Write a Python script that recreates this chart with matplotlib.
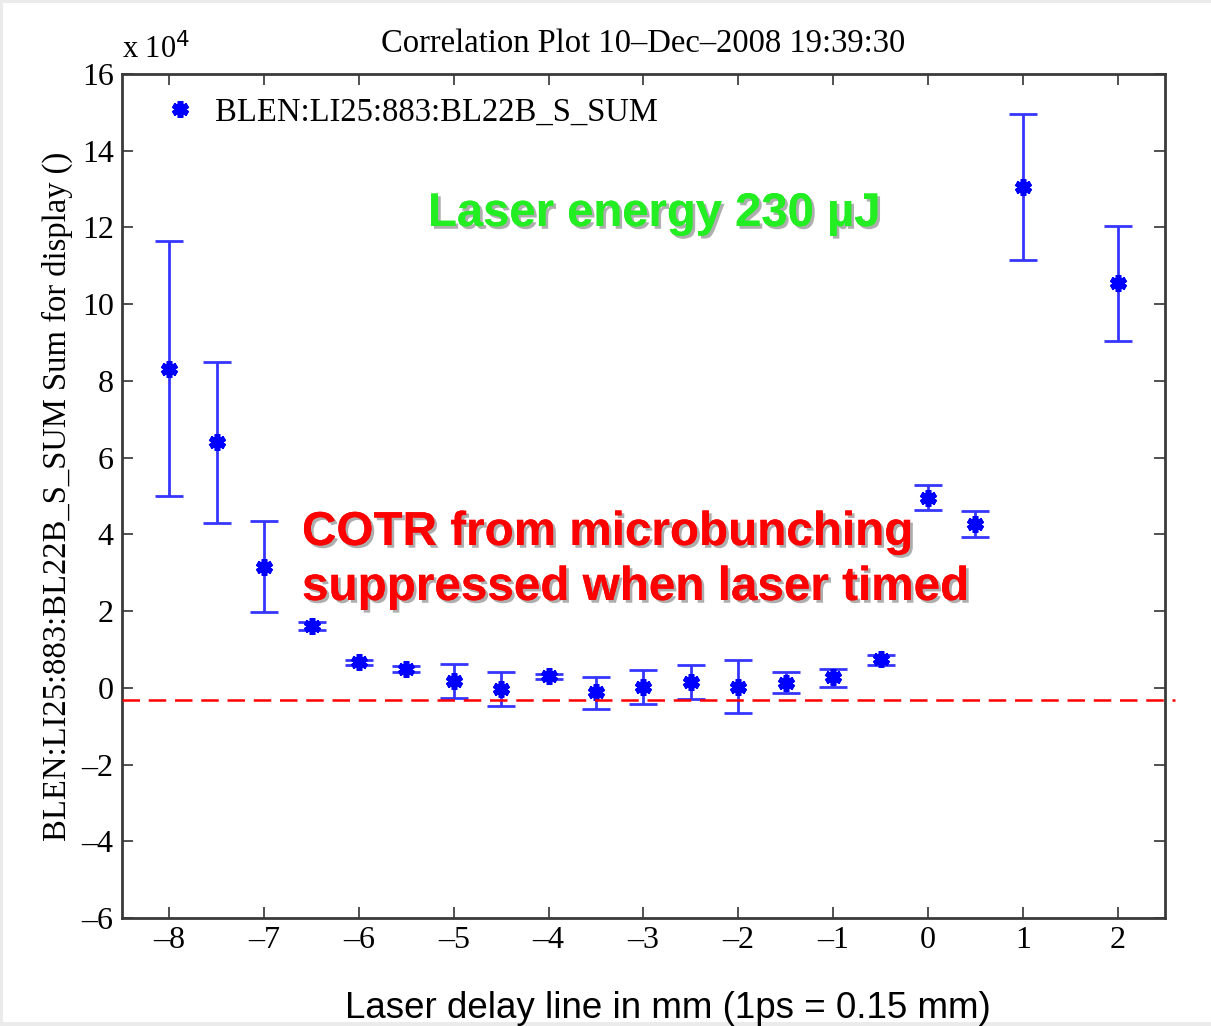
import matplotlib.pyplot as plt
import matplotlib.patheffects as pe
from matplotlib.patches import Rectangle

# delay line position (mm) and BLEN sum (units of 1e4)
delay = [-8, -7.5, -7, -6.5, -6, -5.5, -5, -4.5, -4, -3.5, -3, -2.5, -2, -1.5, -1, -0.5, 0, 0.5, 1, 2]
blen = [8.3, 6.4, 3.15, 1.62, 0.66, 0.5, 0.18, -0.04, 0.3, -0.12, 0.02, 0.14, 0.02, 0.12, 0.28, 0.74, 4.96, 4.28, 13.05, 10.55]
err_hi = [11.65, 8.5, 4.35, 1.72, 0.73, 0.58, 0.62, 0.41, 0.36, 0.28, 0.46, 0.6, 0.72, 0.42, 0.5, 0.86, 5.28, 4.62, 14.95, 12.05]
err_lo = [5.0, 4.3, 1.98, 1.52, 0.59, 0.42, -0.26, -0.48, 0.24, -0.56, -0.43, -0.3, -0.66, -0.14, 0.03, 0.6, 4.63, 3.93, 11.15, 9.05]
baseline = -0.32

xticks = [-8, -7, -6, -5, -4, -3, -2, -1, 0, 1, 2]
yticks = [-6, -4, -2, 0, 2, 4, 6, 8, 10, 12, 14, 16]

serif = ['Liberation Serif', 'DejaVu Serif']
sans = ['Liberation Sans', 'DejaVu Sans']

fig = plt.figure(figsize=(12.11, 10.26), dpi=100, facecolor='#ebebeb')
fig.patches.append(Rectangle((3 / 1211, 4 / 1026), 1 - 3 / 1211, 1 - 7 / 1026,
                             transform=fig.transFigure, facecolor='white',
                             edgecolor='none', zorder=-10))

ax = fig.add_axes([122 / 1211, 1 - 918 / 1026, (1165 - 122) / 1211, (918 - 74) / 1026])

lower = [b - l for b, l in zip(blen, err_lo)]
upper = [h - b for b, h in zip(blen, err_hi)]
ax.errorbar(delay, blen, yerr=[lower, upper], fmt='none', ecolor='#3535ff',
            elinewidth=2, capsize=10, capthick=2)
ax.plot(delay, blen, linestyle='none', marker=(6, 2, 0), markersize=12,
        markeredgewidth=4, color='#0000ff', label='BLEN:LI25:883:BL22B_S_SUM')

ax.axhline(baseline, xmin=0, xmax=1.01, color='#ff0000', linestyle=(0, (7, 3.5)),
           linewidth=1.8, clip_on=False, zorder=5)

ax.set_xlim(-8.5, 2.5)
ax.set_ylim(-6, 16)
ax.set_xticks(xticks)
ax.set_yticks(yticks)
ax.set_xticklabels(['\u2013' + str(-t) if t < 0 else str(t) for t in xticks],
                   family=serif, fontsize=23)
ax.set_yticklabels(['\u2013' + str(-t) if t < 0 else str(t) for t in yticks],
                   family=serif, fontsize=23)
ax.tick_params(direction='in', length=8, width=1.2, top=True, right=True,
               colors='#333333', labelcolor='black', pad=6)
for s in ax.spines.values():
    s.set_linewidth(2)
    s.set_color('#3a3a3a')

ax.set_ylabel('BLEN:LI25:883:BL22B_S_SUM Sum for display ()', family=serif,
              fontsize=23.5, labelpad=6)
ax.set_title('Correlation Plot 10\u2013Dec\u20132008 19:39:30', family=serif,
             fontsize=23.5, pad=16)
ax.text(0.0, 1.01, 'x 10$^4$', transform=ax.transAxes, family=serif,
        fontsize=22, ha='left', va='bottom')

leg = ax.legend(loc='upper left', frameon=False, prop={'family': serif, 'size': 23.5},
                handlelength=1.0, handletextpad=0.55, borderaxespad=0.3,
                bbox_to_anchor=(0.0185, 1.0))

shadow = [pe.withSimplePatchShadow(offset=(2, -2), shadow_rgbFace='#9a9a9a', alpha=0.8),
          pe.Normal()]
fig.text(428 / 1211, 1 - 226 / 1026, 'Laser energy 230 \u00b5J', family=sans,
         fontsize=34, fontweight='bold', color='#22ee22', path_effects=shadow)
fig.text(302 / 1211, 1 - 545 / 1026, 'COTR from microbunching', family=sans,
         fontsize=34.3, fontweight='bold', color='#ff0000', path_effects=shadow)
fig.text(302 / 1211, 1 - 600 / 1026, 'suppressed when laser timed', family=sans,
         fontsize=34.3, fontweight='bold', color='#ff0000', path_effects=shadow)

fig.text(668 / 1211, 1 - 1018 / 1026, 'Laser delay line in mm (1ps = 0.15 mm)',
         family=sans, fontsize=26.5, ha='center', va='baseline', color='black')

fig.savefig('out.png', dpi=100, facecolor=fig.get_facecolor())
